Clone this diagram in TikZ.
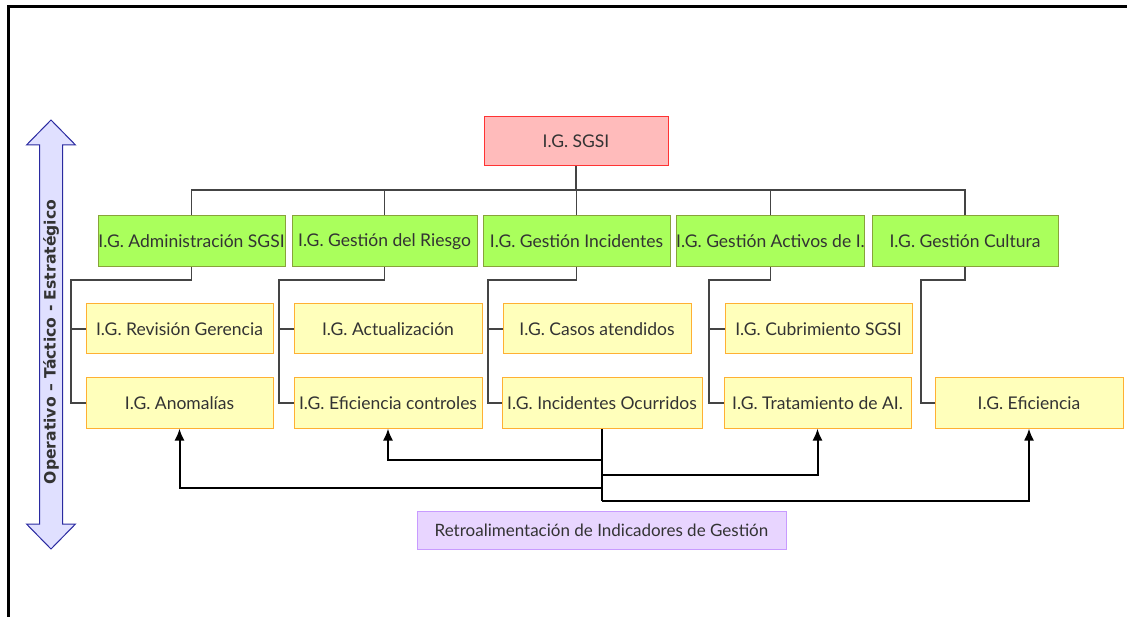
\documentclass[tikz,border=0pt]{standalone}
\usepackage{fontspec}
\setmainfont{Lato}
\newfontfamily\axisfont{DejaVu Sans}
\usetikzlibrary{arrows.meta}
\definecolor{pinkfill}{HTML}{FFBBBB}
\definecolor{pinkline}{HTML}{FF3333}
\definecolor{greenfill}{HTML}{AAFF5C}
\definecolor{greenline}{HTML}{88A33A}
\definecolor{yelfill}{HTML}{FFFFBB}
\definecolor{yelline}{HTML}{FFB033}
\definecolor{lilfill}{HTML}{E8D5FF}
\definecolor{lilline}{HTML}{C89BFF}
\definecolor{axfill}{HTML}{E0E0FF}
\definecolor{axline}{HTML}{2A2AA0}
\definecolor{txt}{HTML}{333333}
\definecolor{conn}{HTML}{444444}
\tikzset{
  box/.style={draw, line width=1pt, inner sep=0pt, text=txt, font=\fontsize{17.5}{20}\selectfont, anchor=center},
  topbox/.style={box, fill=pinkfill, draw=pinkline, minimum width=184pt, minimum height=49pt},
  gbox/.style={box, fill=greenfill, draw=greenline, minimum height=51pt},
  ybox/.style={box, fill=yelfill, draw=yelline, minimum height=50pt},
  rbox/.style={box, fill=lilfill, draw=lilline, minimum width=369pt, minimum height=38pt, font=\fontsize{17}{19}\selectfont},
  tree/.style={draw=conn, line width=1.3pt},
  fb/.style={draw=black, line width=2pt},
  fba/.style={fb, -{Latex[length=12pt,width=10pt]}},
}
\begin{document}
\begin{tikzpicture}[x=1pt,y=-1pt]
\useasboundingbox (0,0) rectangle (1127,617);
% frame
\draw[line width=3.5pt] (8.5,617) -- (8.5,6.5) -- (1127,6.5);
% axis arrow
\draw[fill=axfill, draw=axline, line width=1pt, line join=miter]
  (51,120) -- (75.5,145) -- (62.5,145) -- (62.5,524) -- (75.5,524) -- (51,549)
  -- (26.5,524) -- (39.5,524) -- (39.5,145) -- (26.5,145) -- cycle;
\node[rotate=90, text=txt, font=\axisfont\bfseries\fontsize{15.6}{18}\selectfont, inner sep=0pt] (axis) at (51,342) {Operativo – Táctico - Estratégico};
% nodes
\node[topbox] (sgsi) at (576,141.5) {I.G. SGSI};
\node[gbox, minimum width=187pt] (g1) at (191.5,241.5) {I.G. Administración SGSI};
\node[gbox, minimum width=185pt] (g2) at (384.5,241.5) {I.G. Gestión del Riesgo};
\node[gbox, minimum width=187pt] (g3) at (576.5,241.5) {I.G. Gestión Incidentes};
\node[gbox, minimum width=187pt] (g4) at (770.5,241.5) {I.G. Gestión Activos de I.};
\node[gbox, minimum width=186pt] (g5) at (965,241.5) {I.G. Gestión Cultura};
\node[ybox, minimum width=187pt] (y11) at (179.5,329) {I.G. Revisión Gerencia};
\node[ybox, minimum width=187pt] (y12) at (179.5,403) {I.G. Anomalías};
\node[ybox, minimum width=188pt] (y21) at (388,329) {I.G. Actualización};
\node[ybox, minimum width=188pt] (y22) at (388,403) {I.G. Eficiencia controles};
\node[ybox, minimum width=188pt] (y31) at (597,329) {I.G. Casos atendidos};
\node[ybox, minimum width=200pt] (y32) at (602,403) {I.G. Incidentes Ocurridos};
\node[ybox, minimum width=187pt] (y41) at (818.5,329) {I.G. Cubrimiento SGSI};
\node[ybox, minimum width=187pt] (y42) at (817.5,403) {I.G. Tratamiento de AI.};
\node[ybox, minimum width=188pt] (y52) at (1029,403) {I.G. Eficiencia};
\node[rbox] (retro) at (601.5,530) {Retroalimentación de Indicadores de Gestión};
% top tree
\coordinate (bus) at (576,190);
\foreach \g in {g1,g2,g3,g4,g5}{
  \draw[tree] (\g.north) -- (\g.north |- bus) -- (bus);
}
\draw[tree] (sgsi.south) -- (bus);
% sub trees
\coordinate (r1) at (71,280);
\coordinate (r2) at (279,280);
\coordinate (r3) at (488,280);
\coordinate (r4) at (709,280);
\coordinate (r5) at (921,280);
\draw[tree] (g1.south) |- (r1) |- (y12.west);
\draw[tree] (r1 |- y11.west) -- (y11.west);
\draw[tree] (g2.south) |- (r2) |- (y22.west);
\draw[tree] (r2 |- y21.west) -- (y21.west);
\draw[tree] (g3.south) |- (r3) |- (y32.west);
\draw[tree] (r3 |- y31.west) -- (y31.west);
\draw[tree] (g4.south) |- (r4) |- (y42.west);
\draw[tree] (r4 |- y41.west) -- (y41.west);
\draw[tree] (g5.south) |- (r5) |- (y52.west);
% feedback
\coordinate (t1) at (602,460);
\coordinate (t2) at (602,475);
\coordinate (t3) at (602,488);
\coordinate (t4) at (602,501);
\draw[fb] (y32.south) -- (t4);
\draw[fba] (t1) -| (y22.south);
\draw[fba] (t2) -| (y42.south);
\draw[fba] (t3) -| (y12.south);
\draw[fba] (t4) -| (y52.south);
\end{tikzpicture}
\end{document}
